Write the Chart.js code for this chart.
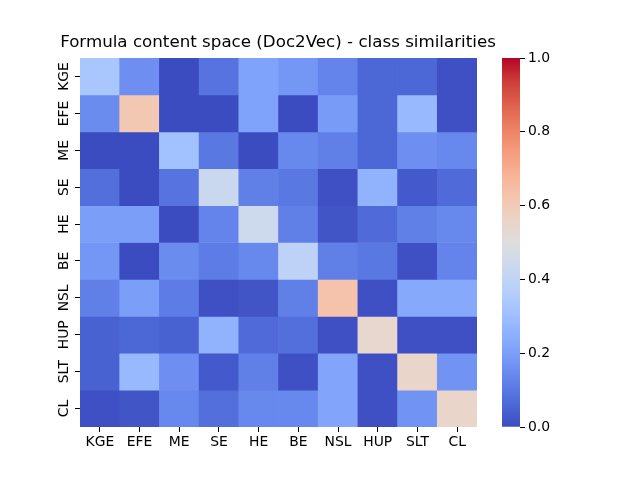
<!DOCTYPE html>
<html>
<head>
<meta charset="utf-8">
<script src="https://cdn.jsdelivr.net/npm/chart.js@4.4.0/dist/chart.umd.min.js"></script>
<style>
  body { margin: 0; background: #fff; }
  #wrap { position: relative; width: 640px; height: 480px; }
  canvas { position: absolute; top: 0; }
  #heat { left: 0; }
  #cbar { left: 490px; }
</style>
</head>
<body>
<div id="wrap">
  <canvas id="heat" width="640" height="480"></canvas>
  <canvas id="cbar" width="150" height="480"></canvas>
</div>
<script>
// classes (rows top to bottom, columns left to right)
var classes = ['KGE', 'EFE', 'ME', 'SE', 'HE', 'BE', 'NSL', 'HUP', 'SLT', 'CL'];

// similarity of each row class with the column classes
var kge = [0.33, 0.16, 0.00, 0.09, 0.21, 0.18, 0.13, 0.06, 0.06, 0.01];
var efe = [0.15, 0.61, 0.00, 0.00, 0.21, 0.00, 0.19, 0.06, 0.28, 0.01];
var me  = [0.00, 0.00, 0.31, 0.10, 0.00, 0.14, 0.12, 0.06, 0.16, 0.14];
var se  = [0.08, 0.00, 0.09, 0.43, 0.12, 0.10, 0.01, 0.26, 0.03, 0.07];
var he  = [0.20, 0.20, 0.00, 0.13, 0.44, 0.12, 0.02, 0.07, 0.12, 0.14];
var be  = [0.18, 0.00, 0.15, 0.11, 0.14, 0.39, 0.12, 0.10, 0.01, 0.13];
var nsl = [0.12, 0.20, 0.11, 0.01, 0.02, 0.12, 0.63, 0.01, 0.23, 0.23];
var hup = [0.05, 0.06, 0.05, 0.26, 0.07, 0.08, 0.01, 0.54, 0.01, 0.01];
var slt = [0.05, 0.28, 0.16, 0.03, 0.12, 0.01, 0.22, 0.01, 0.55, 0.17];
var cl  = [0.01, 0.02, 0.14, 0.08, 0.14, 0.14, 0.22, 0.01, 0.17, 0.55];
var rows = [kge, efe, me, se, he, be, nsl, hup, slt, cl];

// colour bar ticks
var cbTicks = [0.0, 0.2, 0.4, 0.6, 0.8, 1.0];

// coolwarm colormap stops
var coolwarmStops = [
  [0.0, 59, 76, 192], [0.0625, 77, 104, 215], [0.125, 98, 130, 234],
  [0.1875, 119, 154, 247], [0.25, 141, 176, 254], [0.3125, 163, 194, 255],
  [0.375, 184, 208, 249], [0.4375, 204, 217, 238], [0.5, 221, 221, 221],
  [0.5625, 236, 211, 197], [0.625, 245, 196, 173], [0.6875, 247, 177, 148],
  [0.75, 244, 154, 123], [0.8125, 236, 127, 99], [0.875, 222, 96, 77],
  [0.9375, 203, 62, 56], [1.0, 180, 4, 38]
];

function coolwarm(v) {
  v = Math.max(0, Math.min(1, v));
  for (var i = 1; i < coolwarmStops.length; i++) {
    var b = coolwarmStops[i];
    if (v <= b[0]) {
      var a = coolwarmStops[i - 1];
      var t = (v - a[0]) / (b[0] - a[0]);
      var r = Math.round(a[1] + (b[1] - a[1]) * t);
      var g = Math.round(a[2] + (b[2] - a[2]) * t);
      var bl = Math.round(a[3] + (b[3] - a[3]) * t);
      return 'rgb(' + r + ',' + g + ',' + bl + ')';
    }
  }
  return 'rgb(180,4,38)';
}

Chart.defaults.font.family = 'DejaVu Sans';
Chart.defaults.font.size = 13.9;
Chart.defaults.color = '#000';

// one dataset per row, each cell a floating bar spanning that row
var datasets = rows.map(function (vals, i) {
  return {
    label: classes[i],
    data: vals.map(function () { return [i, i + 1]; }),
    backgroundColor: vals.map(coolwarm),
    borderWidth: 0,
    grouped: false,
    categoryPercentage: 1,
    barPercentage: 1
  };
});

new Chart(document.getElementById('heat'), {
  type: 'bar',
  data: { labels: classes, datasets: datasets },
  options: {
    responsive: false,
    animation: false,
    // title box spans 0..556 so it is centred over the heatmap
    layout: { padding: { left: 0, right: 84, top: 33, bottom: 0 } },
    plugins: {
      legend: { display: false },
      tooltip: { enabled: false },
      title: {
        display: true,
        text: 'Formula content space (Doc2Vec) - class similarities',
        font: { size: 16.7, weight: 'normal' },
        color: '#000',
        padding: { top: 0, bottom: 5 }
      }
    },
    scales: {
      x: {
        grid: { drawOnChartArea: false, offset: false, tickLength: 5, tickColor: '#000' },
        border: { display: false },
        ticks: { padding: 2, autoSkip: false, maxRotation: 0 },
        afterFit: function (s) { s.height = 53; }
      },
      y: {
        type: 'linear',
        min: 0,
        max: 10,
        reverse: true,
        afterBuildTicks: function (s) {
          s.ticks = classes.map(function (c, i) { return { value: i + 0.5 }; });
        },
        ticks: {
          callback: function (v, i) { return classes[i]; },
          minRotation: 90,
          maxRotation: 90,
          crossAlign: 'center',
          padding: -3.5,
          autoSkip: false
        },
        grid: { drawOnChartArea: false, tickLength: 5, tickColor: '#000' },
        border: { display: false },
        afterFit: function (s) { s.width = 80; }
      },
      // empty spacer on the right, leaves room for the colour bar
      spacer: {
        type: 'linear',
        position: 'right',
        ticks: { display: false },
        grid: { display: false },
        border: { display: false },
        afterFit: function (s) { s.width = 79; }
      }
    }
  }
});

function barFill(ctx) {
  var area = ctx.chart.chartArea;
  if (!area) return null;
  var g = ctx.chart.ctx.createLinearGradient(0, area.bottom, 0, area.top);
  coolwarmStops.forEach(function (s) {
    g.addColorStop(s[0], 'rgb(' + s[1] + ',' + s[2] + ',' + s[3] + ')');
  });
  return g;
}

new Chart(document.getElementById('cbar'), {
  type: 'bar',
  data: {
    labels: [''],
    datasets: [{
      data: [[0, 1]],
      backgroundColor: barFill,
      borderWidth: 0,
      categoryPercentage: 1,
      barPercentage: 1
    }]
  },
  options: {
    responsive: false,
    animation: false,
    layout: { padding: { left: 12, right: 0, top: 58, bottom: 53 } },
    plugins: { legend: { display: false }, tooltip: { enabled: false } },
    scales: {
      x: { display: false },
      y: {
        position: 'right',
        min: 0,
        max: 1,
        afterBuildTicks: function (s) {
          s.ticks = cbTicks.map(function (v) { return { value: v }; });
        },
        ticks: { callback: function (v) { return v.toFixed(1); }, padding: 3 },
        grid: { drawOnChartArea: false, tickLength: 5, tickColor: '#000' },
        border: { display: false },
        afterFit: function (s) { s.width = 120; }
      }
    }
  }
});
</script>
</body>
</html>
